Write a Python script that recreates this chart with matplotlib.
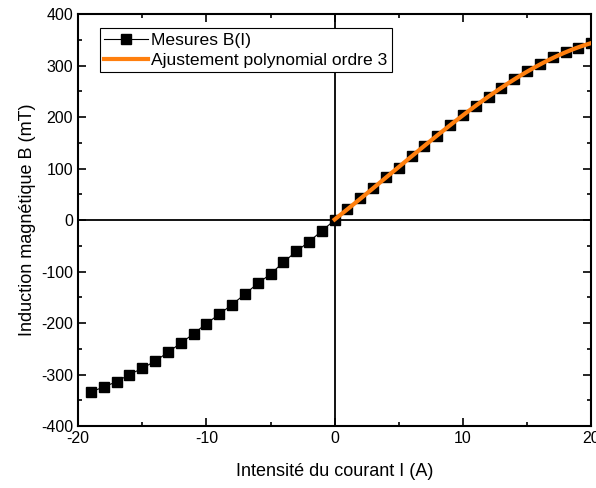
import numpy as np
import matplotlib
matplotlib.use('Agg')
import matplotlib.pyplot as plt
from matplotlib.ticker import MultipleLocator

plt.rcParams['font.family'] = ['Liberation Sans', 'DejaVu Sans']
plt.rcParams['axes.unicode_minus'] = False

courant = [-19, -18, -17, -16, -15, -14, -13, -12, -11, -10,
           -9, -8, -7, -6, -5, -4, -3, -2, -1, 0,
           1, 2, 3, 4, 5, 6, 7, 8, 9, 10,
           11, 12, 13, 14, 15, 16, 17, 18, 19, 20]
champ = [-334, -324, -314, -300, -288, -274, -257, -239, -221, -201,
         -183, -164, -144, -123, -105, -82, -61, -42, -21, 0,
         21, 42, 63, 84, 102, 125, 144, 164, 184, 204,
         221, 239, 256, 274, 289, 303, 317, 326, 335, 343]

I = np.array(courant, dtype=float)
B = np.array(champ, dtype=float)
pos = I >= 0
coef = np.polyfit(I[pos], B[pos], 3)
I_fit = np.linspace(0, 20, 200)
B_fit = np.polyval(coef, I_fit)

fig = plt.figure(figsize=(5.96, 4.88), dpi=100)
ax = fig.add_axes([0.131, 0.127, 0.861, 0.844])

ax.axhline(0, color='black', lw=1.3, zorder=1)
ax.axvline(0, color='black', lw=1.3, zorder=1)
ax.plot(I, B, '-s', color='black', lw=0.8, ms=6.5, label='Mesures B(I)', zorder=3)
ax.plot(I_fit, B_fit, color='#ff7f0e', lw=3, label='Ajustement polynomial ordre 3', zorder=4)

ax.set_xlim(-20, 20)
ax.set_ylim(-400, 400)
ax.xaxis.set_major_locator(MultipleLocator(10))
ax.xaxis.set_minor_locator(MultipleLocator(5))
ax.yaxis.set_major_locator(MultipleLocator(100))
ax.yaxis.set_minor_locator(MultipleLocator(50))
ax.tick_params(which='both', direction='in', top=True, right=True, labelsize=11.5, width=1.2)
ax.tick_params(which='major', length=6)
ax.tick_params(which='minor', length=3)
for s in ax.spines.values():
    s.set_linewidth(1.5)

ax.set_xlabel('Intensité du courant I (A)', fontsize=13, labelpad=12)
ax.set_ylabel('Induction magnétique B (mT)', fontsize=13, labelpad=4)

leg = ax.legend(loc='upper left', bbox_to_anchor=(0.042, 0.966), fontsize=12.6,
                fancybox=False, framealpha=1, edgecolor='black',
                handlelength=2.5, handletextpad=0.2, borderpad=0.25,
                labelspacing=0.28, borderaxespad=0)
leg.get_frame().set_linewidth(0.8)

fig.savefig('out.png', dpi=100)
